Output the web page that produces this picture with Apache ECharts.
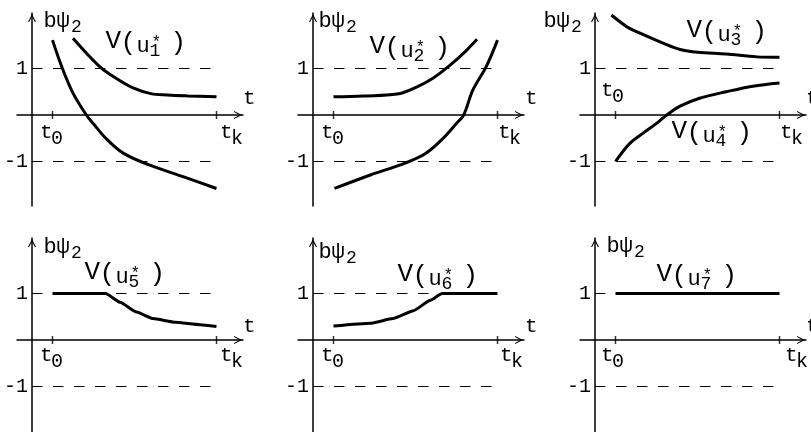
<!DOCTYPE html>
<html><head><meta charset="utf-8">
<script src="https://cdn.jsdelivr.net/npm/echarts@6/dist/echarts.min.js"></script>
<style>html,body{margin:0;padding:0;background:#fff}#c{width:811px;height:432px}</style>
</head><body><div id="c"></div>
<script>
// ---- data (t axis: y-axis at 0, t0 = 1, tk = 9) ----
const T0 = 1, TK = 9;
const xTickValues = [T0, TK];
const yLabelValues = [-1, 1];
const dashUpper = [[0, 1], [TK, 1]];
const dashLower = [[0, -1], [TK, -1]];
// panel 1
const p1Upper = [[2,1.65],[3.3,1.04],[4.1,0.79],[4.9,0.59],[5.8,0.46],[6.6,0.43],[7.6,0.41],[9,0.39]];
const p1Lower = [[1,1.61],[1.45,1.04],[2,0.47],[2.65,0],[3,-0.19],[3.6,-0.5],[4.45,-0.82],[5.75,-1.08],[7.4,-1.33],[9,-1.58]];
// panel 2
const p2Upper = [[1,0.39],[2.45,0.41],[4.1,0.45],[5.05,0.6],[5.85,0.79],[6.6,1.04],[7.35,1.33],[8,1.63]];
const p2Lower = [[1.05,-1.58],[2.8,-1.29],[4.4,-1.05],[5.45,-0.84],[6.35,-0.5],[7,-0.18],[7.35,0],[7.8,0.54],[8.45,1.04],[9,1.61]];
// panel 3
const p3Upper = [[0.8,2.15],[1.55,1.9],[2.2,1.76],[3.35,1.54],[4.15,1.41],[5,1.35],[6.4,1.31],[7.9,1.25],[9,1.24]];
const p3Lower = [[1,-1],[1.7,-0.61],[2.35,-0.39],[3,-0.18],[3.5,0],[4.15,0.19],[5.1,0.36],[6.4,0.5],[7.7,0.62],[9,0.69]];
// panel 4..6
const p4Curve = [[1,1],[3.6,1],[4.3,0.81],[5.1,0.6],[5.9,0.46],[7,0.38],[8.2,0.33],[9,0.29]];
const p5Curve = [[1,0.3],[2.8,0.36],[3.9,0.46],[4.9,0.63],[5.7,0.85],[6.3,1],[9,1]];
const p6Curve = [[1,1],[9,1]];
const panelCurves = [[p1Upper, p1Lower], [p2Upper, p2Lower], [p3Upper, p3Lower], [p4Curve], [p5Curve], [p6Curve]];
const panelSub = ['1', '2', '3', '4', '5', '6', '7'];

// ---- layout ----
const FONT = '"Liberation Mono", "DejaVu Sans Mono", monospace';
const colX0 = [32, 313, 595];
const rows = [{y0: 115, unit: 46.5, top: 13, bottom: 206}, {y0: 340, unit: 46.5, top: 238, bottom: 432}];
const XU = 20.5;
const ARROW = 'path://M5,0 L10,10 L8.6,10 L5,3 L1.4,10 L0,10 Z';

const grids = [], xAxes = [], yAxes = [], series = [];
for (let r = 0; r < 2; r++) {
  for (let c = 0; c < 3; c++) {
    const i = r * 3 + c;
    const R = rows[r], X0 = colX0[c];
    grids.push({left: X0 - 15, top: R.top, width: 226, height: R.bottom - R.top, containLabel: false});
    xAxes.push({
      gridIndex: i, type: 'value', min: -15 / XU, max: 211 / XU,
      axisLine: {onZero: true, lineStyle: {color: '#000', width: 1.5}, symbol: ['none', ARROW], symbolSize: [8, 10], symbolOffset: [0, -5]},
      axisTick: {show: false}, axisLabel: {show: false}, splitLine: {show: false}
    });
    yAxes.push({
      gridIndex: i, type: 'value', min: (R.y0 - R.bottom) / R.unit, max: (R.y0 - R.top) / R.unit,
      axisLine: {show: true, onZero: true, lineStyle: {color: '#000', width: 1.5}, symbol: ['none', ARROW], symbolSize: [8, 10], symbolOffset: [0, -5]},
      axisTick: {show: false},
      axisLabel: {show: true, customValues: yLabelValues, formatter: v => String(v), color: '#000', fontFamily: FONT, fontSize: 20, margin: -11},
      splitLine: {show: false}
    });
    [dashUpper, dashLower].forEach(d => series.push({
      type: 'line', xAxisIndex: i, yAxisIndex: i, data: d, symbol: 'none', silent: true,
      lineStyle: {color: '#000', width: 1, type: [10.5, 10.5]}, z: 2, animation: false
    }));
    series.push({
      type: 'scatter', xAxisIndex: i, yAxisIndex: i, data: xTickValues.map(t => [t, 0]),
      symbol: 'rect', symbolSize: [1.5, 8], itemStyle: {color: '#000'}, silent: true, z: 4, animation: false
    });
    panelCurves[i].forEach(d => series.push({
      type: 'line', xAxisIndex: i, yAxisIndex: i, data: d, symbol: 'none', silent: true, clip: false,
      smooth: r === 0 ? 0.35 : 0.15, smoothMonotone: r === 0 ? null : 'x',
      lineStyle: {color: '#000', width: 3}, z: 5, animation: false
    }));
  }
}

// ---- text annotations (x = glyph left, y = glyph top) ----
function txt(s, x, y, size) {
  return {type: 'text', x: x, y: y, silent: true, style: {text: s, font: size + 'px ' + FONT, fill: '#000', align: 'left', verticalAlign: 'top'}};
}
function bpsi(x, y) {
  return [txt('b', x - 1.5, y - 3, 22), txt('ψ', x + 11.5, y - 3, 22), txt('2', x + 26, y + 5, 18)];
}
function vu(x, y, n) {
  return [txt('V', x - 0.5, y - 4.5, 26), txt('(', x + 14.5, y - 2.5, 26), txt('u', x + 30.5, y + 2.4, 22),
          txt('*', x + 45.5, y + 1.3, 16), txt(n, x + 43.5, y + 9, 18), txt(')', x + 64.5, y - 2.5, 26)];
}
function tsub(x, y, n) { return [txt('t', x - 2, y - 4.4, 21), txt(n, x + 9, y + 2.5, 20)]; }

const panelLabels = [
  {b: [45, 13], v: [[106, 33]], t0: [42, 126], tk: [222, 126], t: [245, 92]},
  {b: [320, 13], v: [[370, 38]], t0: [323, 126], tk: [500, 126], t: [527, 92]},
  {b: [545, 13], v: [[687, 22], [672, 123]], t0: [603, 84], tk: [782, 126], t: [808, 92]},
  {b: [45, 239], v: [[85, 264]], t0: [42, 349], tk: [222, 349], t: [245, 320]},
  {b: [320, 244], v: [[398, 266]], t0: [323, 349], tk: [502, 349], t: [527, 320]},
  {b: [608, 238], v: [[657, 266]], t0: [603, 349], tk: [787, 349], t: [808, 320]}
];
const graphics = [];
let vi = 0;
panelLabels.forEach(p => {
  graphics.push(...bpsi(p.b[0], p.b[1]));
  p.v.forEach(v => graphics.push(...vu(v[0], v[1], panelSub[vi++])));
  graphics.push(...tsub(p.t0[0], p.t0[1], '0'));
  graphics.push(...tsub(p.tk[0], p.tk[1], 'k'));
  graphics.push(txt('t', p.t[0] - 2, p.t[1] - 4.4, 21));
});

const chart = echarts.init(document.getElementById('c'), null, {renderer: 'canvas'});
chart.setOption({
  backgroundColor: '#fff', animation: false,
  grid: grids, xAxis: xAxes, yAxis: yAxes, series: series, graphic: graphics
});
</script></body></html>
